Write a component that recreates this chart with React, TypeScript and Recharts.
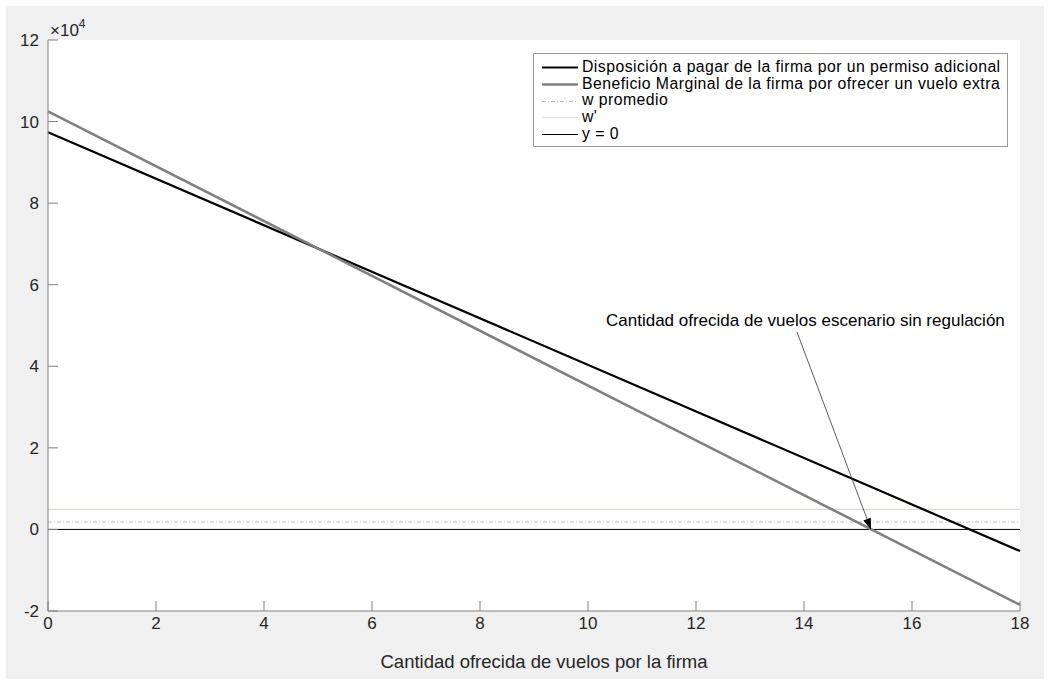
import React from "react";
import {
  LineChart, Line, XAxis, YAxis, CartesianGrid, ReferenceLine,
} from "recharts";

// values (x = flights offered, y in units, axis shows ×10^4)
const xPoints = [0, 18];
const disposicion = [97400, -5300];
const beneficio = [102500, -18500];
const wPromedio = 1800;
const wPrima = 4900;

const xTicks = [0, 2, 4, 6, 8, 10, 12, 14, 16, 18];
const yTicks = [-20000, 0, 20000, 40000, 60000, 80000, 100000, 120000];

// arrow from the note down to the zero crossing of the gray curve
const arrowFrom = { x: 13.87, y: 48400 };
const arrowTo = { x: 15.24, y: 0 };

const legendItems = [
  { label: "Disposición a pagar de la firma por un permiso adicional", color: "#000", width: 2.2, dash: "" },
  { label: "Beneficio Marginal de la firma por ofrecer un vuelo extra", color: "#808080", width: 2.6, dash: "" },
  { label: "w promedio", color: "#bdbdbd", width: 1, dash: "4 2 1 2" },
  { label: "w'", color: "#dcdcd6", width: 1.2, dash: "" },
  { label: "y = 0", color: "#000", width: 1, dash: "" },
];

const data = xPoints.map((x, i) => ({ x, disp: disposicion[i], ben: beneficio[i] }));

const FONT = "'Liberation Sans', Arial, Helvetica, sans-serif";
const AXIS = "#808080";
const TEXT = "#262626";

function Arrow(props: any) {
  const { x1, y1, x2, y2 } = props;
  const ang = Math.atan2(y2 - y1, x2 - x1);
  const len = 11, half = 4;
  const bx = x2 - len * Math.cos(ang), by = y2 - len * Math.sin(ang);
  const px = -Math.sin(ang) * half, py = Math.cos(ang) * half;
  return (
    <g>
      <line x1={x1} y1={y1} x2={bx} y2={by} stroke="#333" strokeWidth={0.8} />
      <polygon points={`${x2},${y2} ${bx + px},${by + py} ${bx - px},${by - py}`} fill="#000" />
    </g>
  );
}

export default function App() {
  return (
    <div style={{ position: "absolute", left: 0, top: 0, width: 1049, height: 685, background: "#fff", fontFamily: FONT }}>
      <div style={{ position: "absolute", left: 6, top: 6, width: 1038, height: 673, background: "#f0f0f0" }} />
      <div style={{ position: "absolute", left: 0, top: 0 }}>
        <LineChart width={1049} height={685} data={data} margin={{ top: 40, right: 29, left: 8, bottom: 44 }}>
          <CartesianGrid horizontal={false} vertical={false} fill="#fff" fillOpacity={1} />
          <XAxis
            dataKey="x" type="number" domain={[0, 18]} ticks={xTicks} interval={0}
            height={30} stroke={AXIS} tickSize={-10} tickMargin={16}
            tick={{ fontSize: 17, fill: TEXT, fontFamily: FONT }}
          />
          <YAxis
            type="number" domain={[-20000, 120000]} ticks={yTicks} interval={0}
            width={40} stroke={AXIS} tickSize={-10} tickMargin={19}
            tickFormatter={(v: number) => `${v / 10000}`}
            tick={{ fontSize: 17, fill: TEXT, fontFamily: FONT }}
          />
          <ReferenceLine y={wPrima} stroke="#dcdcd6" strokeWidth={1.2} />
          <ReferenceLine y={wPromedio} stroke="#bdbdbd" strokeWidth={1} strokeDasharray="4 2 1 2" />
          <ReferenceLine y={0} stroke="#000" strokeWidth={1} />
          <Line dataKey="disp" stroke="#000" strokeWidth={2.2} dot={false} isAnimationActive={false} />
          <Line dataKey="ben" stroke="#808080" strokeWidth={2.6} dot={false} isAnimationActive={false} />
          <ReferenceLine segment={[arrowFrom, arrowTo]} shape={<Arrow />} />
        </LineChart>
      </div>
      <div style={{ position: "absolute", left: 50, top: 15, fontSize: 17, color: TEXT, lineHeight: "20px" }}>
        ×10<sup style={{ fontSize: 12, position: "relative", top: -1 }}>4</sup>
      </div>
      <div style={{ position: "absolute", left: 344, width: 400, top: 651, textAlign: "center", fontSize: 18.5, lineHeight: "22px", color: TEXT, whiteSpace: "nowrap" }}>
        Cantidad ofrecida de vuelos por la firma
      </div>
      <div style={{ position: "absolute", left: 606, top: 311, fontSize: 17, lineHeight: "20px", color: "#000", whiteSpace: "nowrap" }}>
        Cantidad ofrecida de vuelos escenario sin regulación
      </div>
      <div style={{ position: "absolute", left: 533, top: 53, width: 475, height: 94, boxSizing: "border-box", border: "1px solid #999", background: "#fff", paddingTop: 5 }}>
        {legendItems.map((it) => (
          <div key={it.label} style={{ display: "flex", alignItems: "center", height: 16.7, lineHeight: "16.7px", fontSize: 15.8, letterSpacing: 0.45, color: "#000", whiteSpace: "nowrap" }}>
            <svg width={48} height={10} style={{ flex: "none" }}>
              <line x1={8} y1={5.5} x2={44} y2={5.5} stroke={it.color} strokeWidth={it.width} strokeDasharray={it.dash || undefined} />
            </svg>
            <span>{it.label}</span>
          </div>
        ))}
      </div>
    </div>
  );
}
